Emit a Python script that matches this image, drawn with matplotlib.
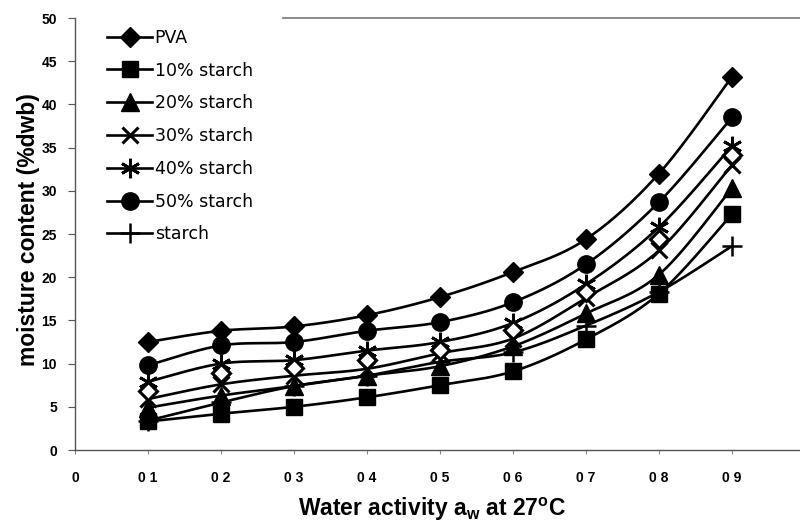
import numpy as np
import matplotlib
matplotlib.use("Agg")
import matplotlib.pyplot as plt
from matplotlib.lines import Line2D

plt.rcParams['font.family'] = ['Liberation Sans', 'DejaVu Sans']

# Sorption isotherm data, moisture content (% dry weight basis)
aw = [0.1, 0.2, 0.3, 0.4, 0.5, 0.6, 0.7, 0.8, 0.9]
pva = [12.5, 13.8, 14.3, 15.6, 17.7, 20.6, 24.4, 32.0, 43.2]
starch10 = [3.3, 4.2, 5.0, 6.1, 7.5, 9.1, 12.8, 18.1, 27.3]
starch20 = [4.9, 6.3, 7.4, 8.6, 9.7, 12.0, 15.8, 20.3, 30.3]
starch30 = [5.9, 7.6, 8.6, 9.4, 11.2, 12.9, 17.6, 23.1, 33.0]
starch40 = [7.9, 10.0, 10.4, 11.5, 12.5, 14.7, 19.2, 25.8, 35.2]
starch50 = [9.8, 12.1, 12.5, 13.8, 14.8, 17.1, 21.5, 28.7, 38.5]
starch = [3.4, 5.5, 7.4, 8.6, 10.2, 11.3, 14.4, 18.3, 23.6]
# open diamond points drawn without a line
extra = [6.8, 8.9, 9.5, 10.4, 11.6, 13.9, 18.3, 24.4, 34.1]

labels = ['PVA', '10% starch', '20% starch', '30% starch', '40% starch', '50% starch', 'starch']
series = [pva, starch10, starch20, starch30, starch40, starch50, starch]
xticklabels = ['0', '0 1', '0 2', '0 3', '0 4', '0 5', '0 6', '0 7', '0 8', '0 9']

styles = [
    dict(marker='D', ms=10.5, mfc='black', mec='black', mew=1),
    dict(marker='s', ms=11.5, mfc='black', mec='black', mew=1),
    dict(marker='^', ms=12.5, mfc='black', mec='black', mew=1),
    dict(marker='x', ms=11, mfc='black', mec='black', mew=2.2),
    dict(marker=(6, 2, 0), ms=14, mfc='black', mec='black', mew=2),
    dict(marker='o', ms=12.5, mfc='black', mec='black', mew=1),
    dict(marker='+', ms=14, mfc='black', mec='black', mew=1.8),
]


def smooth(x, y, n=30):
    # Catmull-Rom style smoothing between points, like spreadsheet "smoothed line"
    x = np.asarray(x, float)
    y = np.asarray(y, float)
    pts = np.column_stack([x, y])
    out = []
    for i in range(len(pts) - 1):
        p0 = pts[max(i - 1, 0)]
        p1 = pts[i]
        p2 = pts[i + 1]
        p3 = pts[min(i + 2, len(pts) - 1)]
        b1 = p1 + (p2 - p0) / 6.0
        b2 = p2 - (p3 - p1) / 6.0
        t = np.linspace(0, 1, n)[:, None]
        seg = ((1 - t) ** 3) * p1 + 3 * ((1 - t) ** 2) * t * b1 + 3 * (1 - t) * t ** 2 * b2 + t ** 3 * p2
        out.append(seg if i == 0 else seg[1:])
    c = np.vstack(out)
    return c[:, 0], c[:, 1]


fig = plt.figure(figsize=(8.0, 5.23), dpi=100)
ax = fig.add_axes([75 / 800, 73 / 523, 725 / 800, 432 / 523])

for vals, st in zip(series, styles):
    sx, sy = smooth(aw, vals)
    ax.plot(sx, sy, color='black', lw=1.9, zorder=2)
    ax.plot(aw, vals, ls='none', zorder=3, **st)

ax.plot(aw, extra, ls='none', marker='D', ms=9, mfc='white', mec='black', mew=2.2, zorder=3)

ax.set_xlim(0, 725 / 730)
ax.set_ylim(0, 50)
ax.set_xticks(np.arange(0, 1.0, 0.1))
ax.set_xticklabels(xticklabels)
ax.set_yticks(np.arange(0, 51, 5))

for side in ['top', 'right']:
    ax.spines[side].set_visible(False)
for side in ['left', 'bottom']:
    ax.spines[side].set_color('#555555')
    ax.spines[side].set_linewidth(1.0)
# partial top border
ax.plot([0.287, 1.0], [1.0, 1.0], transform=ax.transAxes, color='#777777', lw=1.2, clip_on=False)

ax.tick_params(axis='y', direction='out', length=5, width=0.8, color='#555555', pad=8, labelsize=10)
ax.tick_params(axis='x', direction='out', length=3, width=0.8, color='#888888', pad=12, labelsize=10)
for lab in ax.get_xticklabels() + ax.get_yticklabels():
    lab.set_fontweight('bold')

ax.set_ylabel('moisture content (%dwb)', fontsize=16.5, fontweight='bold')
ax.yaxis.set_label_coords((40 - 75) / 725, (450 - 230) / 432)
ax.set_xlabel(r'Water activity a$_\mathregular{w}$ at 27$^\mathregular{o}$C', fontsize=16.5,
              fontweight='bold')
ax.xaxis.set_label_coords((432 - 75) / 725, -(496 - 450) / 432)

handles = [Line2D([0], [0], color='black', lw=1.9, **st) for st in styles]
ax.legend(handles, labels, loc='upper left', bbox_to_anchor=(32 / 725, 0.975), frameon=False,
          prop={'family': 'DejaVu Sans', 'size': 12.5}, handlelength=2.6, handletextpad=0.15,
          labelspacing=0.85, borderaxespad=0, borderpad=0)

fig.savefig('out.png', dpi=100, facecolor='white')
